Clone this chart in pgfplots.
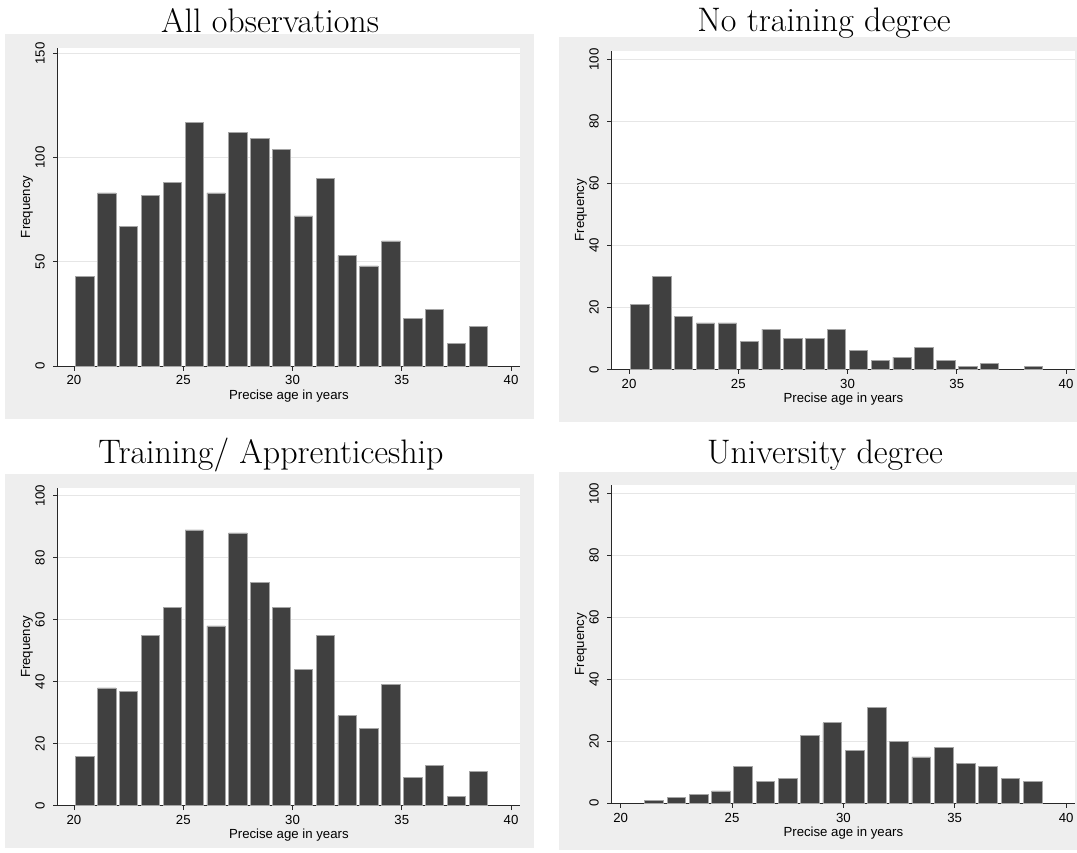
\documentclass[border=0pt]{standalone}
\usepackage{fontspec}
\usepackage{pgfplots}
\pgfplotsset{compat=1.18}
\newfontfamily\stfont{Liberation Sans}
\definecolor{bggrey}{RGB}{238,238,238}
\definecolor{barfill}{RGB}{64,64,64}
\definecolor{barline}{RGB}{165,165,165}
\definecolor{gridc}{RGB}{230,230,230}
\definecolor{axc}{RGB}{40,40,40}
\pgfplotsset{
  stata/.style={
    scale only axis,
    axis lines=left,
    axis line style={-, axc, line width=0.5pt},
    axis background/.style={fill=white},
    tick align=outside,
    major tick length=2.25pt,
    tick style={axc, line width=0.5pt},
    xtick={20,25,...,40},
    ymajorgrids,
    grid style={gridc, line width=0.5pt},
    ymin=0,
    /pgf/number format/assume math mode=true,
    tick label style={font=\stfont\fontsize{6.6}{7.5}\selectfont, inner sep=0pt},
    xticklabel style={anchor=north},
    yticklabel style={rotate=90, anchor=south},
    xticklabel shift=2.4pt,
    yticklabel shift=4pt,
    xlabel={Precise age in years},
    ylabel={Frequency},
    every axis x label/.style={at={(axis description cs:0.5,0)}, anchor=base, yshift=-16.5pt, inner sep=0pt, font=\stfont\fontsize{6.6}{7.5}\selectfont},
    every axis y label/.style={at={(axis description cs:-0.08,0.5)}, rotate=90, anchor=north, inner sep=0pt, font=\stfont\fontsize{6.6}{7.5}\selectfont},
  },
  hbars/.style={ybar, bar width=0.84, fill=barfill, draw=barline, line width=0.35pt},
}
\begin{document}
\begin{tikzpicture}
\useasboundingbox (0,0) rectangle (538.5pt,-426pt);
% grey graph regions
\fill[bggrey] (2.5pt,-17pt) rectangle (267pt,-209.5pt);
\fill[bggrey] (279.5pt,-18.35pt) rectangle (538.5pt,-210.85pt);
\fill[bggrey] (2.5pt,-237pt) rectangle (267pt,-424pt);
\fill[bggrey] (279.5pt,-235.85pt) rectangle (538.5pt,-425pt);
% titles
\node[anchor=base, font=\fontsize{17}{20}\selectfont] at (135pt,-16.2pt) {All observations};
\node[anchor=base, font=\fontsize{17}{20}\selectfont] at (412pt,-15.6pt) {No training degree};
\node[anchor=base, font=\fontsize{17}{20}\selectfont] at (135.5pt,-231.9pt) {Training/ Apprenticeship};
\node[anchor=base, font=\fontsize{17}{20}\selectfont] at (412.5pt,-231.8pt) {University degree};

% Panel 1: All observations
\begin{axis}[stata, at={(28.85pt,-183pt)}, anchor=south west,
  width=231.15pt, height=159.15pt,
  xmin=19.254, xmax=40.41, ymax=152.7, ytick={0,50,100,150}]
\addplot[hbars] coordinates {(20.5,43) (21.5,83) (22.5,67) (23.5,82) (24.5,88) (25.5,117) (26.5,83) (27.5,112) (28.5,109) (29.5,104) (30.5,72) (31.5,90) (32.5,53) (33.5,48) (34.5,60) (35.5,23) (36.5,27) (37.5,11) (38.5,19)};
\end{axis}

% Panel 2: No training degree
\begin{axis}[stata, at={(305.85pt,-184.7pt)}, anchor=south west,
  width=231.65pt, height=159.35pt,
  xmin=19.208, xmax=40.41, ymax=102.8, ytick={0,20,...,100}]
\addplot[hbars] coordinates {(20.5,21) (21.5,30) (22.5,17) (23.5,15) (24.5,15) (25.5,9) (26.5,13) (27.5,10) (28.5,10) (29.5,13) (30.5,6) (31.5,3) (32.5,4) (33.5,7) (34.5,3) (35.5,1) (36.5,2) (38.5,1)};
\end{axis}

% Panel 3: Training/ Apprenticeship
\begin{axis}[stata, at={(28.85pt,-402.85pt)}, anchor=south west,
  width=231.15pt, height=159pt,
  xmin=19.254, xmax=40.41, ymax=102.6, ytick={0,20,...,100}]
\addplot[hbars] coordinates {(20.5,16) (21.5,38) (22.5,37) (23.5,55) (24.5,64) (25.5,89) (26.5,58) (27.5,88) (28.5,72) (29.5,64) (30.5,44) (31.5,55) (32.5,29) (33.5,25) (34.5,39) (35.5,9) (36.5,13) (37.5,3) (38.5,11)};
\end{axis}

% Panel 4: University degree
\begin{axis}[stata, at={(305.85pt,-401.65pt)}, anchor=south west,
  width=231.65pt, height=159.15pt,
  xmin=19.596, xmax=40.40, ymax=102.8, ytick={0,20,...,100}]
\addplot[hbars] coordinates {(21.5,1) (22.5,2) (23.5,3) (24.5,4) (25.5,12) (26.5,7) (27.5,8) (28.5,22) (29.5,26) (30.5,17) (31.5,31) (32.5,20) (33.5,15) (34.5,18) (35.5,13) (36.5,12) (37.5,8) (38.5,7)};
\end{axis}
\end{tikzpicture}
\end{document}
